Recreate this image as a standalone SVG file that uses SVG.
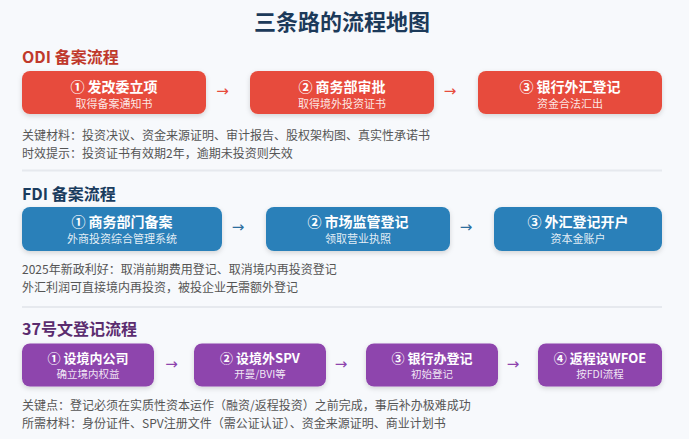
<svg xmlns="http://www.w3.org/2000/svg" width="689" height="439" viewBox="0 0 689 439">
<defs>
<filter id="sh" x="-10%" y="-20%" width="120%" height="150%">
<feDropShadow dx="0" dy="2" stdDeviation="2.5" flood-color="#000" flood-opacity="0.15"/>
</filter>
<style>
text{font-family:"Noto Sans CJK SC","Noto Sans",sans-serif;}
.title{font-size:22px;font-weight:bold;fill:#1c3a5a;text-anchor:middle;}
.h{font-size:16px;font-weight:bold;}
.t1{font-size:14px;font-weight:bold;fill:#fff;text-anchor:middle;}
.t2{font-size:11px;fill:#fff;fill-opacity:0.88;text-anchor:middle;}
.s1{font-size:13px;}
.s2{font-size:10.5px;}
.note{font-size:12px;fill:#555;}
.arr{font-family:"DejaVu Sans",sans-serif;font-size:15px;text-anchor:middle;}
.div{stroke:#e6e9ee;stroke-width:2;}
.red{fill:#e74c3c;}
.blue{fill:#2980b9;}
.pur{fill:#8e44ad;}
</style>
</defs>
<rect width="689" height="439" fill="#f7f9fc"/>
<text class="title" x="342" y="30">三条路的流程地图</text>

<g id="odi-section">
<text class="h" x="22" y="63" fill="#c0392b">ODI 备案流程</text>
<g id="odi-1"><rect class="red" x="22" y="71" width="184" height="43" rx="8" filter="url(#sh)"/><text class="t1" x="114" y="92">① 发改委立项</text><text class="t2" x="114" y="108">取得备案通知书</text></g>
<g id="odi-2"><rect class="red" x="250" y="71" width="184" height="43" rx="8" filter="url(#sh)"/><text class="t1" x="342" y="92">② 商务部审批</text><text class="t2" x="342" y="108">取得境外投资证书</text></g>
<g id="odi-3"><rect class="red" x="478" y="71" width="184" height="43" rx="8" filter="url(#sh)"/><text class="t1" x="570" y="92">③ 银行外汇登记</text><text class="t2" x="570" y="108">资金合法汇出</text></g>
<text class="note" x="22" y="140">关键材料：投资决议、资金来源证明、审计报告、股权架构图、真实性承诺书</text>
<text class="note" x="22" y="157.5">时效提示：投资证书有效期2年，逾期未投资则失效</text>
</g>
<line class="div" x1="22" y1="170.5" x2="662" y2="170.5"/>

<g id="fdi-section">
<text class="h" x="22" y="199.5" fill="#1a3c5e">FDI 备案流程</text>
<g id="fdi-1"><rect class="blue" x="22" y="207" width="200" height="44" rx="8" filter="url(#sh)"/><text class="t1" x="122" y="227">① 商务部门备案</text><text class="t2" x="122" y="243">外商投资综合管理系统</text></g>
<g id="fdi-2"><rect class="blue" x="266" y="207" width="184" height="44" rx="8" filter="url(#sh)"/><text class="t1" x="358" y="227">② 市场监管登记</text><text class="t2" x="358" y="243">领取营业执照</text></g>
<g id="fdi-3"><rect class="blue" x="494" y="207" width="168" height="44" rx="8" filter="url(#sh)"/><text class="t1" x="578" y="227">③ 外汇登记开户</text><text class="t2" x="578" y="243">资本金账户</text></g>
<text class="note" x="22" y="274">2025年新政利好：取消前期费用登记、取消境内再投资登记</text>
<text class="note" x="22" y="291.5">外汇利润可直接境内再投资，被投企业无需额外登记</text>
</g>
<line class="div" x1="22" y1="307" x2="662" y2="307"/>

<g id="spv-section">
<text class="h" x="22" y="334.5" fill="#5b2c6f">37号文登记流程</text>
<g id="spv-1"><rect class="pur" x="22" y="343.5" width="132" height="43" rx="8" filter="url(#sh)"/><text class="t1 s1" x="88" y="363">① 设境内公司</text><text class="t2 s2" x="88" y="378">确立境内权益</text></g>
<g id="spv-2"><rect class="pur" x="194" y="343.5" width="132" height="43" rx="8" filter="url(#sh)"/><text class="t1 s1" x="260" y="363">② 设境外SPV</text><text class="t2 s2" x="260" y="378">开曼/BVI等</text></g>
<g id="spv-3"><rect class="pur" x="366" y="343.5" width="132" height="43" rx="8" filter="url(#sh)"/><text class="t1 s1" x="432" y="363">③ 银行办登记</text><text class="t2 s2" x="432" y="378">初始登记</text></g>
<g id="spv-4"><rect class="pur" x="538" y="343.5" width="124" height="43" rx="8" filter="url(#sh)"/><text class="t1 s1" x="600" y="363">④ 返程设WFOE</text><text class="t2 s2" x="600" y="378">按FDI流程</text></g>
<text class="note" x="22" y="410">关键点：登记必须在实质性资本运作（融资/返程投资）之前完成，事后补办极难成功</text>
<text class="note" x="22" y="428">所需材料：身份证件、SPV注册文件（需公证认证）、资金来源证明、商业计划书</text>
</g>

<g id="connectors">
<text class="arr" x="222.5" y="96" fill="#e74c3c">→</text>
<text class="arr" x="450" y="96" fill="#e74c3c">→</text>
<text class="arr" x="238" y="232" fill="#2c6e9e">→</text>
<text class="arr" x="466" y="232" fill="#2c6e9e">→</text>
<text class="arr" x="171.5" y="368.5" fill="#8e44ad" font-size="13">→</text>
<text class="arr" x="341" y="368.5" fill="#8e44ad" font-size="13">→</text>
<text class="arr" x="513" y="368.5" fill="#8e44ad" font-size="13">→</text>
</g>
</svg>
